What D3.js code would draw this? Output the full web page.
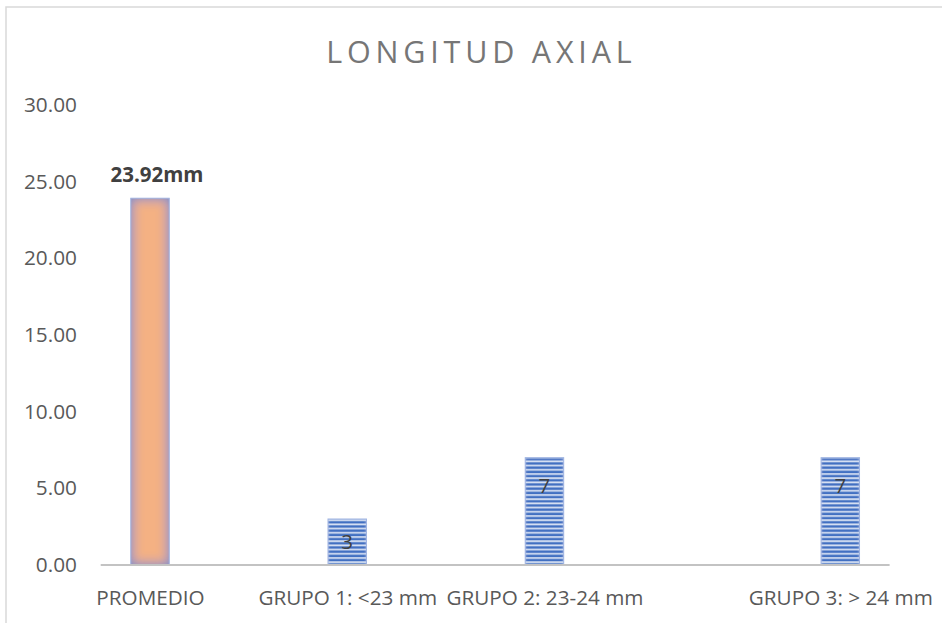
<!DOCTYPE html>
<html>
<head>
<meta charset="utf-8">
<script src="https://cdn.jsdelivr.net/npm/d3@7"></script>
<style>
  html, body { margin: 0; padding: 0; background: #ffffff; }
  svg { display: block; font-family: "Open Sans", "Noto Sans", sans-serif; }
</style>
</head>
<body>
<svg id="chart" width="942" height="623"></svg>
<script>
// Axial length: overall mean and number of eyes per group
const categories = ["PROMEDIO", "GRUPO 1: <23 mm", "GRUPO 2: 23-24 mm", "GRUPO 3: > 24 mm"];
const values = [23.92, 3, 7, 7];
const valueLabels = ["23.92mm", "3", "7", "7"];
const slots = [0, 1, 2, 3.5];          // slot of each category along the axis
const isMean = [true, false, false, false];
const yTicks = [0, 5, 10, 15, 20, 25, 30];
const titleText = "LONGITUD AXIAL";

const svg = d3.select("#chart");
const W = 942, H = 623;

const plot = { left: 100.7, right: 889.6, top: 105, bottom: 565 };

const x = d3.scaleLinear().domain([-0.25, 3.75]).range([plot.left, plot.right]);
const y = d3.scaleLinear().domain([0, 30]).range([plot.bottom, plot.top]);
const barW = (x(1) - x(0)) * 0.195;

const defs = svg.append("defs");

// horizontal stripes for the group bars
const pat = defs.append("pattern")
  .attr("id", "stripes")
  .attr("patternUnits", "userSpaceOnUse")
  .attr("width", 8).attr("height", 4.2);
pat.append("rect").attr("width", 8).attr("height", 4.2).attr("fill", "#d8e1f3");
pat.append("rect").attr("y", 0.3).attr("width", 8).attr("height", 2.4).attr("fill", "#4270c2");

// soft rectangular inner glow toward the edges of each bar
function innerGlow(id, color, std, amp, expo) {
  const f = defs.append("filter").attr("id", id)
    .attr("x", 0).attr("y", 0).attr("width", 1).attr("height", 1);
  f.append("feGaussianBlur").attr("in", "SourceAlpha").attr("stdDeviation", std).attr("result", "blur");
  const inv = f.append("feComponentTransfer").attr("in", "blur").attr("result", "inv");
  inv.append("feFuncA").attr("type", "linear").attr("slope", -1).attr("intercept", 1);
  const shp = f.append("feComponentTransfer").attr("in", "inv").attr("result", "shaped");
  shp.append("feFuncA").attr("type", "gamma").attr("amplitude", amp).attr("exponent", expo).attr("offset", 0);
  f.append("feFlood").attr("flood-color", color).attr("result", "col");
  f.append("feComposite").attr("in", "col").attr("in2", "shaped").attr("operator", "in").attr("result", "glow");
  f.append("feComposite").attr("in", "glow").attr("in2", "SourceAlpha").attr("operator", "in").attr("result", "glowIn");
  const m = f.append("feMerge");
  m.append("feMergeNode").attr("in", "SourceGraphic");
  m.append("feMergeNode").attr("in", "glowIn");
}
innerGlow("glowMean", "#8a92c4", 6, 1.25, 0.8);
innerGlow("glowGroup", "#c9d6f0", 1.8, 0.9, 1.2);

// chart frame
svg.append("rect")
  .attr("x", 6).attr("y", 7).attr("width", W + 20).attr("height", H + 20)
  .attr("fill", "#ffffff").attr("stroke", "#d9d9d9").attr("stroke-width", 1.5);

// title
const ls = 4.8;
svg.append("text")
  .attr("x", 479 + ls / 2).attr("y", 62.7)
  .attr("text-anchor", "middle")
  .attr("font-size", 30.5)
  .attr("letter-spacing", ls)
  .attr("fill", "#767676")
  .text(titleText);

// y axis labels (no axis line)
const yAxis = d3.axisLeft(y).tickValues(yTicks).tickFormat(d3.format(".2f")).tickSize(0).tickPadding(0);
const gy = svg.append("g").attr("transform", "translate(77,0)").call(yAxis);
gy.select(".domain").remove();
gy.selectAll("text")
  .attr("font-family", "\"Open Sans\", sans-serif")
  .attr("font-size", 20.8)
  .attr("fill", "#595959");

// bars
const bars = svg.append("g");
categories.forEach((c, i) => {
  const cx = x(slots[i]);
  bars.append("rect")
    .attr("x", cx - barW / 2)
    .attr("y", y(values[i]))
    .attr("width", barW)
    .attr("height", y(0) - y(values[i]))
    .attr("fill", isMean[i] ? "#f4b183" : "url(#stripes)")
    .attr("filter", isMean[i] ? "url(#glowMean)" : "url(#glowGroup)");
  bars.append("rect")
    .attr("x", cx - barW / 2)
    .attr("y", y(values[i]))
    .attr("width", barW)
    .attr("height", y(0) - y(values[i]))
    .attr("fill", "none")
    .attr("stroke", "#9fb4e2")
    .attr("stroke-width", 1);
});

// x axis line
svg.append("line")
  .attr("x1", plot.left).attr("x2", plot.right)
  .attr("y1", y(0)).attr("y2", y(0))
  .attr("stroke", "#c3c3c3").attr("stroke-width", 2);

// category labels
const xAxis = d3.axisBottom(x).tickValues(slots).tickFormat((d, i) => categories[i]).tickSize(0).tickPadding(0);
const gx = svg.append("g").attr("transform", `translate(0,${y(0)})`).call(xAxis);
gx.select(".domain").remove();
gx.selectAll("text")
  .attr("dy", null)
  .attr("y", 39.5)
  .attr("font-family", "\"Open Sans\", sans-serif")
  .attr("font-size", 20.7)
  .attr("fill", "#595959");

// value labels
categories.forEach((c, i) => {
  const cx = x(slots[i]);
  if (isMean[i]) {
    svg.append("text")
      .attr("x", cx + 7).attr("y", y(values[i]) - 16.5)
      .attr("text-anchor", "middle")
      .attr("font-size", 20.5).attr("font-weight", 700)
      .attr("fill", "#404040")
      .text(valueLabels[i]);
  } else {
    const top = y(values[i]);
    const mid = (top + y(0)) / 2;
    const base = Math.min(top + 35, mid + 7);
    svg.append("text")
      .attr("x", cx).attr("y", base)
      .attr("text-anchor", "middle")
      .attr("font-size", 20.5)
      .attr("fill", "#404040")
      .text(valueLabels[i]);
  }
});
</script>
</body>
</html>
